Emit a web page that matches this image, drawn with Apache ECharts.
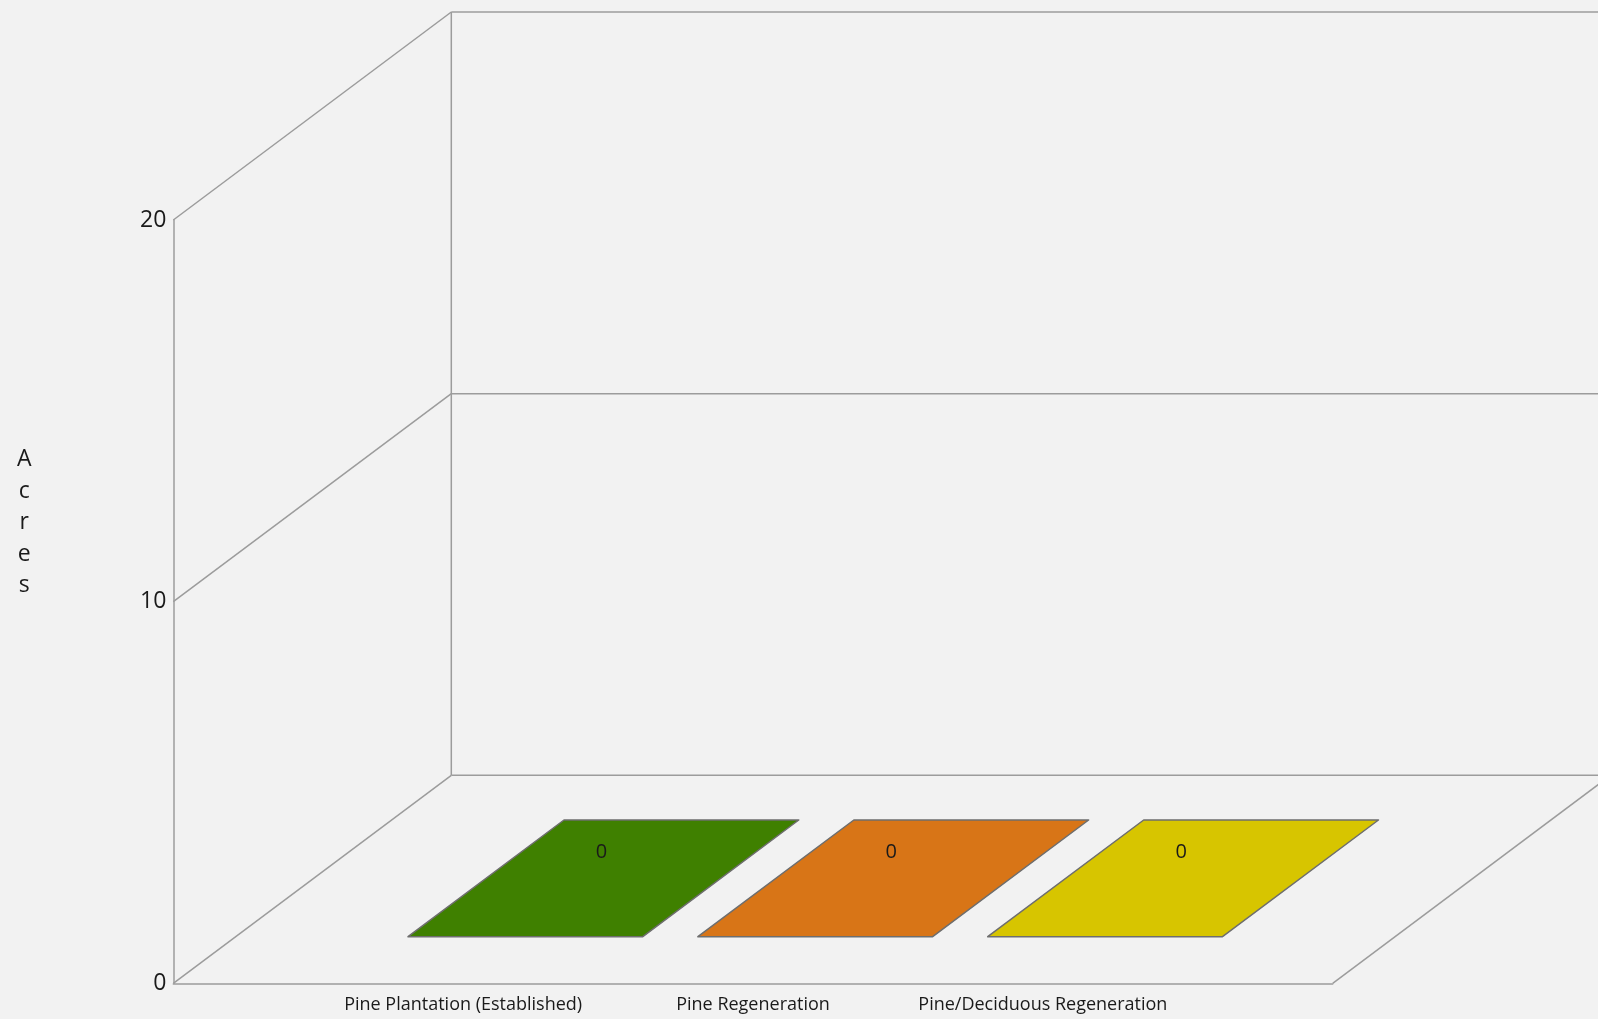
<!DOCTYPE html>
<html>
<head>
<meta charset="utf-8">
<script src="https://cdn.jsdelivr.net/npm/echarts@6/dist/echarts.min.js"></script>
<style>
html,body{margin:0;padding:0;background:#f2f2f2;}
#chart{width:1598px;height:1019px;}
</style>
</head>
<body>
<div id="chart"></div>
<script>
var categories = ['Pine Plantation (Established)', 'Pine Regeneration', 'Pine/Deciduous Regeneration'];
var acres = [0, 0, 0];
var barColors = ['#3f8000', '#d87517', '#d7c500'];
var yTicks = [0, 10, 20];
var yMax = 20;
var xMax = categories.length + 1;

// depth vector (3D projection) and bar depth placement
var DX = 278, DY = -208;
var F1 = 0.224, F2 = 0.785;
var LINE = '#9c9c9c';

var chart = echarts.init(document.getElementById('chart'));

function frameItem(params, api) {
  var v = api.value(0);
  var p = api.coord([0, v]);
  var pr = api.coord([xMax, v]);
  var children = [
    {type: 'line', shape: {x1: p[0], y1: p[1], x2: p[0] + DX, y2: p[1] + DY}, style: {stroke: LINE, lineWidth: 1.5}},
    {type: 'line', shape: {x1: p[0] + DX, y1: p[1] + DY, x2: pr[0] + DX, y2: pr[1] + DY}, style: {stroke: LINE, lineWidth: 1.5}}
  ];
  if (params.dataIndex === 0) {
    var top = api.coord([0, yMax]);
    children.push({type: 'line', shape: {x1: p[0] + DX, y1: p[1] + DY, x2: top[0] + DX, y2: top[1] + DY}, style: {stroke: LINE, lineWidth: 1.5}});
    children.push({type: 'line', shape: {x1: pr[0], y1: pr[1], x2: pr[0] + DX, y2: pr[1] + DY}, style: {stroke: LINE, lineWidth: 1.5}});
  }
  return {type: 'group', children: children};
}

function barItem(params, api) {
  var x = api.value(0), v = api.value(1);
  var base = api.coord([x, 0]);
  var top = api.coord([x, v]);
  var hw = api.size([1, 0])[0] * 0.405;
  var color = barColors[params.dataIndex % barColors.length];
  var fx1 = DX * F1, fy1 = DY * F1, fx2 = DX * F2, fy2 = DY * F2;
  var L = base[0] - hw, R = base[0] + hw;
  var yb = base[1], yt = top[1];
  var stroke = {stroke: '#6e6e6e', lineWidth: 1.5, lineJoin: 'round'};
  var children = [];
  if (Math.abs(yb - yt) > 0.5) {
    children.push({type: 'polygon', shape: {points: [[L + fx1, yb + fy1], [R + fx1, yb + fy1], [R + fx1, yt + fy1], [L + fx1, yt + fy1]]},
      style: Object.assign({fill: color}, stroke)});
    children.push({type: 'polygon', shape: {points: [[R + fx1, yb + fy1], [R + fx2, yb + fy2], [R + fx2, yt + fy2], [R + fx1, yt + fy1]]},
      style: Object.assign({fill: echarts.color.lift(color, -0.2)}, stroke)});
  }
  children.push({type: 'polygon', shape: {points: [[L + fx1, yt + fy1], [R + fx1, yt + fy1], [R + fx2, yt + fy2], [L + fx2, yt + fy2]]},
    style: Object.assign({fill: color}, stroke)});
  var mx = base[0] + (fx1 + fx2) / 2, my = yt + (fy1 + fy2) / 2;
  children.push({type: 'text', x: mx - 2, y: my - 26, style: {text: String(v), fill: '#1a1a1a', fontSize: 20, fontFamily: 'Open Sans', align: 'center', verticalAlign: 'middle'}});
  return {type: 'group', children: children};
}

var option = {
  backgroundColor: '#f2f2f2',
  animation: false,
  grid: {left: 173.3, right: 265.3, top: 220, bottom: 35.7},
  xAxis: {
    type: 'value', min: 0, max: xMax, interval: 1,
    axisLine: {show: true, lineStyle: {color: LINE, width: 1.5}},
    axisTick: {show: false},
    splitLine: {show: false},
    axisLabel: {
      formatter: function (v) { return categories[v - 1] || ''; },
      fontSize: 18, fontFamily: 'Open Sans', color: '#1a1a1a', margin: 13,
      showMinLabel: true, showMaxLabel: true
    }
  },
  yAxis: {
    type: 'value', min: 0, max: yMax, interval: 10,
    axisLine: {show: true, lineStyle: {color: LINE, width: 1.5}},
    axisTick: {show: false},
    splitLine: {show: false},
    axisLabel: {fontSize: 23, fontFamily: 'Open Sans', color: '#1a1a1a', margin: 7},
    name: 'A\nc\nr\ne\ns',
    nameLocation: 'middle', nameRotate: 0, nameGap: 149,
    nameTextStyle: {fontSize: 23, fontFamily: 'Open Sans', color: '#1a1a1a', lineHeight: 31.5, align: 'center', verticalAlign: 'bottom'}
  },
  series: [
    {type: 'custom', name: 'frame', renderItem: frameItem, data: yTicks.map(function (t) { return [t]; }), encode: {y: 0}, silent: true, z: 1},
    {type: 'custom', name: 'Acres', renderItem: barItem, data: acres.map(function (a, i) { return [i + 1, a]; }), encode: {x: 0, y: 1}, z: 3}
  ]
};
chart.setOption(option);
</script>
</body>
</html>
